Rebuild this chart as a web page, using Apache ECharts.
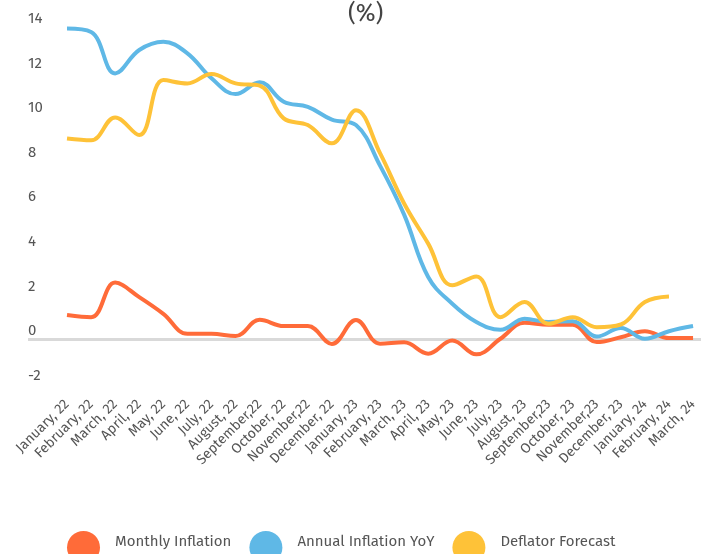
<!DOCTYPE html>
<html>
<head>
<meta charset="utf-8">
<script src="https://cdn.jsdelivr.net/npm/echarts@6/dist/echarts.min.js"></script>
<style>
  html, body { margin: 0; padding: 0; background: #fff; }
  #main { width: 701px; height: 554px; }
</style>
</head>
<body>
<div id="main"></div>
<script>
// month labels (as written on the chart)
var months = ['January, 22', 'February, 22', 'March, 22', 'April, 22', 'May, 22', 'June, 22',
  'July, 22', 'August, 22', 'September,22', 'October, 22', 'November,22', 'December, 22',
  'January, 23', 'February, 23', 'March, 23', 'April, 23', 'May, 23', 'June, 23',
  'July, 23', 'August, 23', 'September,23', 'October, 23', 'November,23', 'December, 23',
  'January, 24', 'February, 24', 'March, 24'];

var monthly = [1.1, 1.0, 2.55, 1.9, 1.15, 0.25, 0.25, 0.15, 0.88, 0.6, 0.6, -0.2,
  0.87, -0.19, -0.13, -0.64, -0.05, -0.67, 0.03, 0.75, 0.66, 0.66, -0.12, 0.1,
  0.37, 0.06, 0.06];

var annual = [13.95, 13.8, 11.94, 12.99, 13.36, 12.84, 11.72, 11.01, 11.54, 10.67, 10.44, 9.87,
  9.62, 7.8, 5.6, 2.8, 1.6, 0.78, 0.43, 0.93, 0.78, 0.82, 0.13, 0.51,
  0.03, 0.37, 0.6];

var deflator = [9.02, 8.94, 9.96, 9.17, 11.64, 11.49, 11.91, 11.49, 11.39, 9.92, 9.62, 8.8,
  10.29, 8.36, 6.1, 4.3, 2.43, 2.83, 1.0, 1.68, 0.7, 1.0, 0.55, 0.67,
  1.68, 1.93, null];

var yTicks = [-2, 0, 2, 4, 6, 8, 10, 12, 14];

function pairs(arr) {
  var out = [];
  for (var i = 0; i < arr.length; i++) {
    out.push([i, arr[i]]);
  }
  return out;
}

var idx = [];
for (var i = 0; i < months.length; i++) idx.push(i);

var font = '"Fira Sans", "Noto Sans", sans-serif';
var myChart = echarts.init(document.getElementById('main'));

var option = {
  animation: false,
  backgroundColor: '#fff',
  title: {
    text: '(%)',
    left: 343,
    top: -3,
    textStyle: { fontFamily: font, fontSize: 24, fontWeight: 'normal', color: '#444' }
  },
  legend: {
    left: 62,
    top: 526,
    itemWidth: 33,
    itemHeight: 33,
    itemGap: 18,
    icon: 'circle',
    formatter: '{t|{name}}',
    textStyle: {
      fontFamily: font, fontSize: 15, color: '#555',
      rich: {
        t: { fontFamily: font, fontSize: 15, color: '#555', padding: [0, 0, 12, 10] }
      }
    },
    data: ['Monthly Inflation', 'Annual Inflation YoY', 'Deflator Forecast']
  },
  grid: { left: 28, right: 0, top: 27.5, bottom: 170, outerBoundsMode: 'none', containLabel: false },
  xAxis: {
    type: 'value',
    min: -1.62,
    max: 26.33,
    axisLine: { show: false },
    axisTick: { show: false },
    splitLine: { show: false },
    axisLabel: {
      customValues: idx,
      rotate: 45,
      margin: 18,
      fontFamily: font,
      fontSize: 14,
      color: '#555',
      formatter: function (v) { return months[v]; }
    }
  },
  yAxis: {
    type: 'value',
    min: -2,
    max: 14,
    interval: 2,
    axisLine: { show: false },
    axisTick: { show: false },
    axisLabel: {
      align: 'left',
      verticalAlign: 'bottom',
      margin: 0,
      padding: [0, 0, 1, 0],
      fontFamily: font,
      fontSize: 15,
      color: '#555'
    },
    splitLine: {
      show: true,
      lineStyle: {
        width: 3,
        color: yTicks.map(function (t) { return t === 0 ? '#d9d9d9' : 'rgba(0,0,0,0)'; })
      }
    }
  },
  series: [
    {
      name: 'Monthly Inflation',
      type: 'line',
      smooth: 0.4,
      showSymbol: false,
      symbol: 'circle',
      data: pairs(monthly),
      itemStyle: { color: '#ff6b39' },
      lineStyle: { color: '#ff6b39', width: 4 }
    },
    {
      name: 'Annual Inflation YoY',
      type: 'line',
      smooth: 0.4,
      showSymbol: false,
      symbol: 'circle',
      data: pairs(annual),
      itemStyle: { color: '#5fb8e6' },
      lineStyle: { color: '#5fb8e6', width: 4 }
    },
    {
      name: 'Deflator Forecast',
      type: 'line',
      smooth: 0.4,
      showSymbol: false,
      symbol: 'circle',
      data: pairs(deflator),
      itemStyle: { color: '#fec238' },
      lineStyle: { color: '#fec238', width: 4 }
    }
  ]
};

myChart.setOption(option);
</script>
</body>
</html>
